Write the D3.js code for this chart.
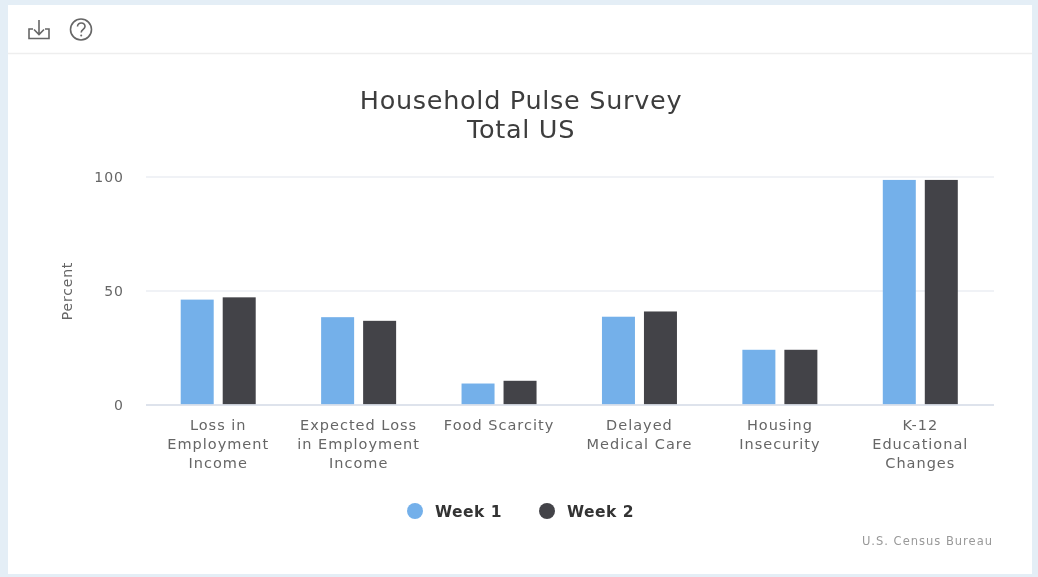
<!DOCTYPE html>
<html>
<head>
<meta charset="utf-8">
<script src="https://cdnjs.cloudflare.com/ajax/libs/d3/7.8.5/d3.min.js"></script>
<style>
  html, body { margin: 0; padding: 0; background: #e4eef6; overflow: hidden; }
  /* the reference is a soft, upscaled screenshot */
  svg { display: block; font-family: "DejaVu Sans", sans-serif; filter: blur(0.6px); }
  .tick text { fill: #666; }
</style>
</head>
<body>
<svg id="chart"></svg>
<script>
// Chart values:
const categories = ["Loss in Employment Income", "Expected Loss in Employment Income", "Food Scarcity",
    "Delayed Medical Care", "Housing Insecurity", "K-12 Educational Changes"];
const categoryLines = [["Loss in", "Employment", "Income"], ["Expected Loss", "in Employment", "Income"], ["Food Scarcity"],
    ["Delayed", "Medical Care"], ["Housing", "Insecurity"], ["K-12", "Educational", "Changes"]];
const seriesNames = ["Week 1", "Week 2"];
const seriesColors = ["#74b0ea", "#434348"];
const week1 = [46, 38.3, 9.2, 38.5, 24, 98.5];
const week2 = [47, 36.7, 10.4, 40.8, 24, 98.5];
const yTicks = [0, 50, 100];
const titleLines = ["Household Pulse Survey", "Total US"];

// Set plot canvas size:
const width = 1038, height = 577;
const plot = {left: 146, right: 994, top: 176.5, bottom: 404.5};

const svg = d3.select("#chart").attr("width", width).attr("height", height);

// White card with the toolbar on top:
svg.append("rect").attr("x", 8).attr("y", 5).attr("width", 1024).attr("height", 569).attr("fill", "#fff");
svg.append("line").attr("x1", 8).attr("x2", 1032).attr("y1", 53.5).attr("y2", 53.5).attr("stroke", "#eeeeee").attr("stroke-width", 1.5);

// Download icon
const icons = svg.append("g").attr("fill", "none").attr("stroke", "#666").attr("stroke-width", 1.6);
icons.append("path").attr("d", "M39 20V34M34 29.5L39 34.5L44 29.5");
icons.append("path").attr("d", "M33 29H29V38.5H49V29H45");
// Help icon
icons.append("circle").attr("cx", 81).attr("cy", 29.5).attr("r", 10.5);
icons.append("path").attr("d", "M77.5 26.5C77.5 21.8 85 22 85 26.6C85 29.3 81.2 29.5 81.2 32.5");
svg.append("circle").attr("cx", 81.2).attr("cy", 35.6).attr("r", 1).attr("fill", "#666");

// Title
svg.append("text")
    .attr("text-anchor", "middle")
    .attr("font-size", 25.5)
    .attr("letter-spacing", 0.7)
    .attr("fill", "#3d3d3d")
    .selectAll("tspan")
    .data(titleLines)
    .enter()
    .append("tspan")
    .attr("x", 521)
    .attr("y", function(d, i) { return 109 + i * 29; })
    .text(function(d) { return d; });

// Setup scales:
const xScale = d3.scaleBand().domain(categories).range([148, 990.5]).paddingInner(0).paddingOuter(0);
const xSeries = d3.scaleBand().domain(seriesNames).range([xScale.bandwidth() / 2 - 37.5, xScale.bandwidth() / 2 + 37.5]).paddingInner(9 / 42).paddingOuter(0);
const yScale = d3.scaleLinear().domain([0, 100]).range([plot.bottom, plot.top]);

// Gridlines and y axis labels:
const yAxis = d3.axisLeft(yScale).tickValues(yTicks).tickSize(plot.left - plot.right).tickPadding(22);
const yG = svg.append("g").attr("transform", "translate(" + plot.left + ",0)").call(yAxis);
yG.select(".domain").remove();
yG.selectAll(".tick line").attr("stroke", "#ebeef3").attr("stroke-width", 1.3);
yG.selectAll(".tick text").attr("font-size", 14).attr("font-family", "DejaVu Sans").attr("letter-spacing", 1).attr("y", 1);

// Y axis title
svg.append("text")
    .attr("transform", "translate(72,291) rotate(-90)")
    .attr("text-anchor", "middle")
    .attr("font-size", 14)
    .attr("letter-spacing", 0.8)
    .attr("fill", "#666")
    .text("Percent");

// Bars, one group per category:
const series = [week1, week2];
const groups = svg.selectAll(".serie")
    .data(seriesNames)
    .enter()
    .append("g")
    .attr("class", "serie")
    .attr("fill", function(d, i) { return seriesColors[i]; });
groups.selectAll("rect")
    .data(function(d, i) {
      return series[i].map(function(v, j) { return {name: d, cat: categories[j], value: v}; });
    })
    .enter()
    .append("rect")
    .attr("x", function(d) { return xScale(d.cat) + xSeries(d.name); })
    .attr("y", function(d) { return yScale(d.value); })
    .attr("width", xSeries.bandwidth())
    .attr("height", function(d) { return yScale(0) - yScale(d.value); });

// X axis with wrapped labels:
const xAxis = d3.axisBottom(xScale).tickSize(0).tickPadding(0);
const xG = svg.append("g").attr("transform", "translate(0," + plot.bottom + ")").call(xAxis);
xG.select(".domain").attr("d", "M" + plot.left + ",0.5H" + plot.right).attr("stroke", "#d8dee9").attr("stroke-width", 1.3);
xG.selectAll(".tick text").each(function(d, i) {
  const label = d3.select(this).text(null).attr("font-size", 14.5).attr("font-family", "DejaVu Sans")
      .attr("letter-spacing", 1).attr("y", 0).attr("dy", null);
  categoryLines[i].forEach(function(line, k) {
    label.append("tspan").attr("x", 0).attr("y", 25 + k * 19).text(line);
  });
});

// Legend
const legendX = [415, 547];
const legend = svg.selectAll(".legend")
    .data(seriesNames)
    .enter()
    .append("g")
    .attr("class", "legend")
    .attr("transform", function(d, i) { return "translate(" + legendX[i] + ",511)"; });
legend.append("circle")
    .attr("r", 8)
    .attr("fill", function(d, i) { return seriesColors[i]; });
legend.append("text")
    .attr("x", 20)
    .attr("y", 6)
    .attr("font-size", 15.5)
    .attr("font-weight", "bold")
    .attr("letter-spacing", 0.5)
    .attr("fill", "#333")
    .text(function(d) { return d; });

// Credit
svg.append("text")
    .attr("x", 993)
    .attr("y", 545)
    .attr("text-anchor", "end")
    .attr("font-size", 11.5)
    .attr("letter-spacing", 1)
    .attr("fill", "#999")
    .text("U.S. Census Bureau");
</script>
</body>
</html>
